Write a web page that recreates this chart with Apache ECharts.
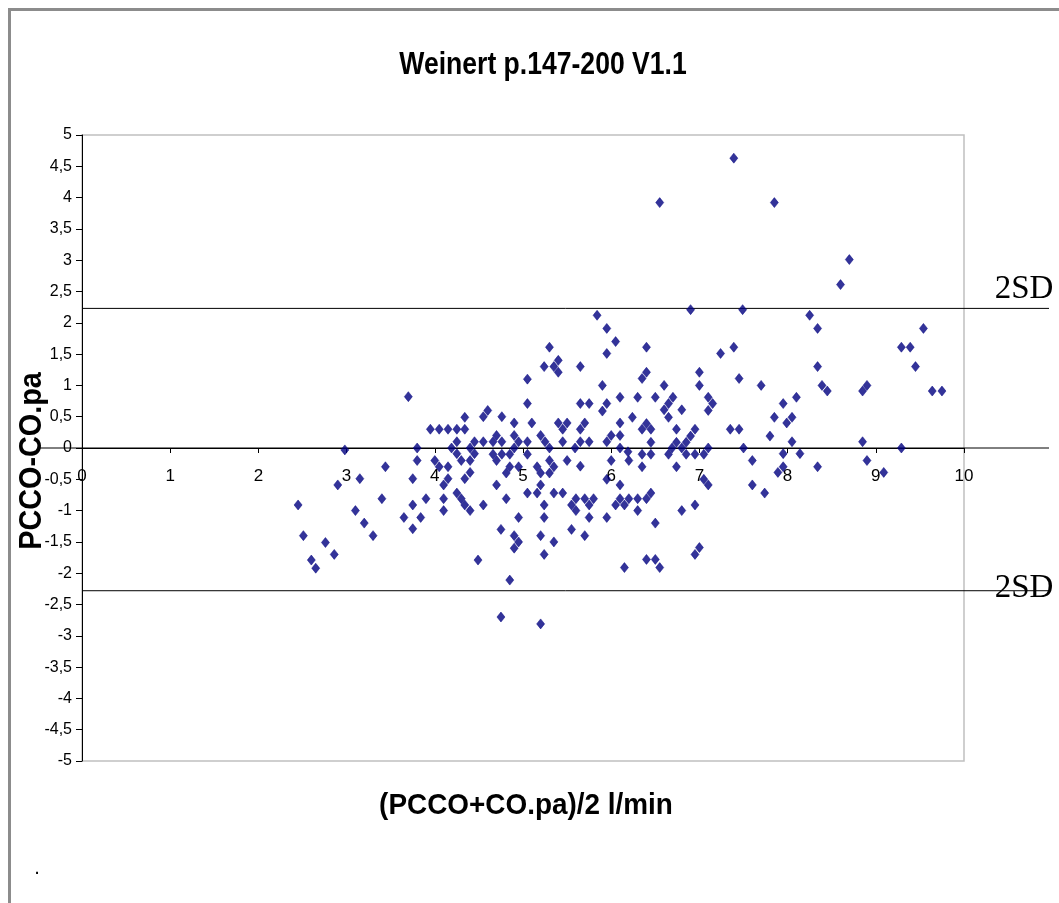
<!DOCTYPE html>
<html>
<head>
<meta charset="utf-8">
<script src="https://cdn.jsdelivr.net/npm/echarts@6/dist/echarts.min.js"></script>
<style>
html,body{margin:0;padding:0;background:#fff;}
#chart{width:1059px;height:903px;}
</style>
</head>
<body>
<div id="chart"></div>
<script>
// ---- data (mean on x, difference on y) ----
const lowRange = [
 [3.70,0.82],[3.95,0.30],[4.05,0.30],[4.15,0.30],[4.25,0.30],[4.34,0.30],[4.34,0.49],[4.25,0.10],[4.45,0.10],
 [4.19,0.00],[4.40,0.00],[2.98,-0.03],[3.80,0.00],[4.25,-0.09],[4.45,-0.09],[3.80,-0.20],[4.00,-0.20],[4.30,-0.20],
 [4.40,-0.20],[3.44,-0.30],[4.05,-0.30],[4.15,-0.30],[3.75,-0.49],[3.15,-0.49],[2.90,-0.59],[4.10,-0.59],[4.15,-0.49],
 [4.34,-0.49],[4.40,-0.39],[3.40,-0.81],[3.90,-0.81],[4.10,-0.81],[4.25,-0.72],[4.30,-0.81],[4.34,-0.91],[4.40,-1.00],
 [4.10,-1.00],[3.75,-0.91],[2.45,-0.91],[3.10,-1.00],[3.65,-1.11],[3.84,-1.11],[3.20,-1.20],[3.75,-1.29],[2.51,-1.40],
 [3.30,-1.40],[2.76,-1.51],[2.86,-1.70],[2.60,-1.79],[2.65,-1.92],[4.49,-1.79]
];
const midRange = [
 [4.55,0.50],[4.60,0.60],[4.55,0.10],[4.55,-0.91],[4.66,0.10],[4.70,0.20],[4.66,-0.10],[4.70,-0.20],[4.76,0.10],
 [4.76,0.50],[4.76,-0.10],[4.70,-0.59],[4.81,-0.40],[4.85,-0.30],[4.85,-0.10],[4.90,0.40],[4.90,0.20],[4.90,0.00],
 [4.95,0.10],[4.95,-0.30],[4.81,-0.81],[4.75,-1.30],[4.95,-1.11],[4.90,-1.40],[4.95,-1.50],[4.90,-1.60],[4.85,-2.11],
 [4.75,-2.70],[5.05,1.10],[5.05,0.71],[5.10,0.40],[5.05,0.10],[5.05,-0.10],[5.05,-0.72],[5.16,-0.72],[5.16,-0.30],
 [5.20,0.20],[5.20,-0.40],[5.20,-0.59],[5.25,0.10],[5.24,-0.91],[5.24,-1.11],[5.20,-1.40],[5.24,-1.70],[5.20,-2.81],
 [5.24,1.30],[5.35,1.30],[5.40,1.21],[5.40,1.40],[5.30,1.61],[5.30,0.00],[5.30,-0.20],[5.35,-0.30],[5.30,-0.40],
 [5.35,-0.72],[5.35,-1.50],[5.40,0.40],[5.45,0.30],[5.50,0.40],[5.45,0.10],[5.50,-0.20],[5.45,-0.72],[5.55,-0.91],
 [5.60,-0.81],[5.60,-1.00],[5.55,-1.30],[5.59,0.00],[5.65,0.30],[5.65,0.10],[5.65,-0.29],[5.65,0.71],[5.65,1.30],
 [5.70,0.40],[5.75,0.71],[5.75,0.10],[5.70,-0.81],[5.75,-0.91],[5.80,-0.81],[5.75,-1.11],[5.70,-1.40],
 [5.84,2.12],[5.95,1.91],[6.05,1.70],[5.95,1.51],[5.90,1.00],[5.90,0.59],[5.95,0.71],[5.95,0.10],[6.00,0.20],
 [6.10,0.81],[6.10,0.40],[6.10,0.20],[6.10,0.00],[6.19,-0.06],[6.00,-0.20],[5.95,-0.50],[6.10,-0.59],[6.05,-0.91],
 [6.10,-0.81],[6.15,-0.91],[5.95,-1.11],[6.15,-1.91]
];
const upperRange = [
 [6.20,-0.81],[6.20,-0.20],[6.24,0.49],[6.30,0.81],[6.30,-0.81],[6.30,-1.00],[6.35,1.11],[6.35,0.30],[6.35,-0.10],
 [6.35,-0.30],[6.40,1.61],[6.40,1.21],[6.40,0.39],[6.40,-0.81],[6.40,-1.78],[6.45,0.30],[6.45,0.09],[6.45,-0.10],
 [6.45,-0.72],[6.50,0.81],[6.50,-1.20],[6.50,-1.78],[6.55,3.92],[6.55,-1.91],[6.60,1.00],[6.60,0.61],[6.65,0.71],
 [6.65,0.49],[6.65,-0.10],[6.69,0.00],[6.70,0.81],[6.74,0.30],[6.74,0.09],[6.74,-0.30],[6.80,0.61],[6.80,0.00],
 [6.80,-1.00],[6.85,0.09],[6.85,-0.10],[6.90,2.21],[6.90,0.19],[6.95,0.30],[6.95,-0.10],[6.95,-0.91],[6.95,-1.70],
 [7.00,1.21],[7.00,1.00],[7.00,-1.59],[7.05,-0.10],[7.05,-0.50],[7.10,0.81],[7.10,0.60],[7.10,0.00],[7.10,-0.59],
 [7.15,0.71],[7.24,1.51],[7.35,0.30],[7.39,1.61],[7.39,4.63],[7.45,1.11],[7.45,0.30],[7.49,2.21],[7.50,0.00],
 [7.60,-0.20],[7.60,-0.59]
];
const highRange = [
 [7.70,1.00],[7.74,-0.72],[7.80,0.19],[7.85,3.92],[7.85,0.49],[7.89,-0.39],[7.95,0.71],[7.95,-0.09],[7.95,-0.30],
 [7.99,0.40],[8.05,0.49],[8.05,0.10],[8.10,0.81],[8.14,-0.09],[8.25,2.12],[8.34,1.91],[8.34,1.30],[8.34,-0.30],
 [8.39,1.00],[8.45,0.91],[8.60,2.61],[8.70,3.01],[8.85,0.91],[8.85,0.10],[8.90,1.00],[8.90,-0.20],[9.09,-0.39],
 [9.29,1.61],[9.29,0.00],[9.39,1.61],[9.45,1.30],[9.54,1.91],[9.64,0.91],[9.75,0.91]
];
// reference lines (mean difference and ±2SD)
const upper2SD = 2.23;
const lower2SD = -2.28;
const zeroLine = 0;
const xMin = 0, xMax = 10, xInterval = 1;
const yMin = -5, yMax = 5, yInterval = 0.5;
const titleText = 'Weinert p.147-200 V1.1';
const xTitle = '(PCCO+CO.pa)/2 l/min';
const yTitle = 'PCCO-CO.pa';
const sdLabel = '2SD';

const points = lowRange.concat(midRange, upperRange, highRange);

const chart = echarts.init(document.getElementById('chart'), null, {renderer: 'canvas'});
const FONT = '"Liberation Sans", Arial, Helvetica, sans-serif';
const GRID_H = 626;
// x axis sits at y = 0: shift it up from the grid bottom by the share of the y range below zero
const xAxisOffset = -GRID_H * (zeroLine - yMin) / (yMax - yMin);
// helper axes for the long reference lines that run past the plot area
const refStart = -0.48, refEnd = 10.96;

const option = {
  animation: false,
  backgroundColor: '#ffffff',
  grid: [
    {left: 82, top: 135, width: 882, height: GRID_H, show: true, borderColor: '#c0c0c0', borderWidth: 1.5, backgroundColor: '#ffffff', containLabel: false},
    {left: 40, top: 135, width: 1009, height: GRID_H, show: false}
  ],
  xAxis: [
    {gridIndex: 0, type: 'value', min: xMin, max: xMax, interval: xInterval, position: 'bottom', offset: xAxisOffset,
     axisLine: {show: true, onZero: false, lineStyle: {color: '#000', width: 1}},
     axisTick: {show: true, inside: false, length: 5, lineStyle: {color: '#000', width: 1}},
     axisLabel: {margin: 20, fontSize: 17, color: '#000', fontFamily: FONT},
     splitLine: {show: false}},
    {gridIndex: 1, type: 'value', min: refStart, max: refEnd, show: false}
  ],
  yAxis: [
    {gridIndex: 0, type: 'value', min: yMin, max: yMax, interval: yInterval,
     axisLine: {show: true, onZero: false, lineStyle: {color: '#000', width: 1}},
     axisTick: {show: true, inside: false, length: 6, lineStyle: {color: '#000', width: 1}},
     axisLabel: {margin: 10, fontSize: 16, color: '#000', fontFamily: FONT,
       formatter: v => String(v).replace('.', ',')},
     splitLine: {show: false}},
    {gridIndex: 1, type: 'value', min: yMin, max: yMax, show: false}
  ],
  series: [
    {type: 'line', xAxisIndex: 1, yAxisIndex: 1, symbol: 'none', silent: true, z: 2,
     lineStyle: {color: '#000', width: 1}, data: [[refStart, zeroLine], [refEnd, zeroLine]]},
    {type: 'line', xAxisIndex: 1, yAxisIndex: 1, symbol: 'none', silent: true, z: 2,
     lineStyle: {color: '#000', width: 1}, data: [[xMin, upper2SD], [refEnd, upper2SD]]},
    {type: 'line', xAxisIndex: 1, yAxisIndex: 1, symbol: 'none', silent: true, z: 2,
     lineStyle: {color: '#000', width: 1}, data: [[xMin, lower2SD], [refEnd, lower2SD]]},
    {type: 'scatter', xAxisIndex: 0, yAxisIndex: 0, symbol: 'diamond', symbolSize: [8, 10], z: 5,
     itemStyle: {color: '#000080', borderColor: '#000080', borderWidth: 0.6}, data: points}
  ],
  graphic: [
    {type: 'rect', shape: {x: 9.5, y: 9.5, width: 1200, height: 1000}, style: {fill: 'none', stroke: '#8c8c8c', lineWidth: 3}, z: 100, silent: true},
    {type: 'text', x: 543, y: 65, scaleX: 0.83, style: {text: titleText, x: 0, y: 0, align: 'center', verticalAlign: 'middle', fontSize: 32, fontWeight: 'bold', fontFamily: FONT, fill: '#000'}},
    {type: 'text', x: 32, y: 461, rotation: Math.PI / 2, scaleX: 0.9, style: {text: yTitle, x: 0, y: 0, align: 'center', verticalAlign: 'middle', fontSize: 32, fontWeight: 'bold', fontFamily: FONT, fill: '#000'}},
    {type: 'text', x: 526, y: 806, scaleX: 0.93, style: {text: xTitle, x: 0, y: 0, align: 'center', verticalAlign: 'middle', fontSize: 30, fontWeight: 'bold', fontFamily: FONT, fill: '#000'}},
    {type: 'text', x: 1024, y: 289, style: {text: sdLabel, x: 0, y: 0, align: 'center', verticalAlign: 'middle', fontSize: 33, fontFamily: '"Liberation Serif", "Times New Roman", serif', fill: '#000'}},
    {type: 'text', x: 1024, y: 588, style: {text: sdLabel, x: 0, y: 0, align: 'center', verticalAlign: 'middle', fontSize: 33, fontFamily: '"Liberation Serif", "Times New Roman", serif', fill: '#000'}},
    {type: 'text', x: 37, y: 868, style: {text: '.', x: 0, y: 0, align: 'center', verticalAlign: 'middle', fontSize: 20, fontFamily: FONT, fill: '#000'}}
  ]
};
chart.setOption(option);
</script>
</body>
</html>
